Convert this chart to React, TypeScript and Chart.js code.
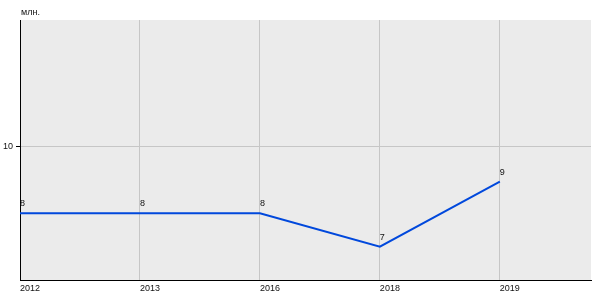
import React, { useEffect, useRef } from "react";
import { Chart, registerables } from "chart.js";

Chart.register(...registerables);

const categories = ["2012", "2013", "2016", "2018", "2019"];
const values = [8, 8, 8, 7, 8.95];
const yTicks = [10];
const unitLabel = "млн.";

const FONT = "'Liberation Sans', Arial, sans-serif";

export default function App() {
  const ref = useRef<HTMLCanvasElement | null>(null);

  useEffect(() => {
    document.body.style.margin = "0";
    const canvas = ref.current;
    if (!canvas) return;

    const bgPlugin = {
      id: "bgArea",
      beforeDraw(chart: any) {
        const { ctx, chartArea } = chart;
        ctx.save();
        ctx.fillStyle = "#ebebeb";
        ctx.fillRect(chartArea.left, chartArea.top, chartArea.right - chartArea.left, chartArea.bottom - chartArea.top);
        ctx.restore();
      },
      afterDraw(chart: any) {
        const { ctx, chartArea } = chart;
        ctx.save();
        ctx.fillStyle = "#111";
        ctx.font = `9px ${FONT}`;
        ctx.textAlign = "left";
        ctx.textBaseline = "alphabetic";
        ctx.fillText(unitLabel, chartArea.left + 1, 15);
        ctx.restore();
      },
      afterDatasetsDraw(chart: any) {
        const { ctx } = chart;
        const meta = chart.getDatasetMeta(0);
        ctx.save();
        ctx.fillStyle = "#111";
        ctx.font = `9px ${FONT}`;
        ctx.textAlign = "left";
        ctx.textBaseline = "alphabetic";
        meta.data.forEach((pt: any, i: number) => {
          ctx.fillText(String(Math.round(values[i])), pt.x, pt.y - 7);
        });
        ctx.restore();
      },
    };

    const chart = new Chart(canvas, {
      type: "line",
      data: {
        datasets: [
          {
            data: values.map((v, i) => ({ x: i, y: v })),
            borderColor: "#0048dc",
            borderWidth: 2,
            pointRadius: 0,
            tension: 0,
            fill: false,
          },
        ],
      },
      options: {
        animation: false,
        responsive: false,
        layout: { padding: { left: 0, right: 9, top: 20, bottom: 0 } },
        plugins: { legend: { display: false }, tooltip: { enabled: false } },
        scales: {
          x: {
            type: "linear",
            min: 0,
            max: 4.76,
            afterFit(scale: any) {
              scale.height = 20;
            },
            ticks: {
              stepSize: 1,
              includeBounds: false,
              autoSkip: false,
              maxRotation: 0,
              align: "start",
              padding: 3,
              color: "#111",
              font: { family: FONT, size: 9 },
              callback: (v: any) => {
                const i = Number(v);
                return Number.isInteger(i) && categories[i] ? categories[i] : "";
              },
            },
            grid: { color: "#c6c6c6", drawTicks: false, lineWidth: 1 },
            border: { display: true, color: "#000", width: 1 },
          },
          y: {
            type: "linear",
            min: 6,
            max: 13.8,
            afterFit(scale: any) {
              scale.width = 20;
            },
            afterBuildTicks(scale: any) {
              scale.ticks = yTicks.map((v) => ({ value: v }));
            },
            ticks: {
              padding: 3,
              color: "#111",
              font: { family: FONT, size: 9 },
              callback: (v: any) => String(v),
            },
            grid: { color: "#c6c6c6", tickColor: "#000", tickLength: 4, lineWidth: 1 },
            border: { display: true, color: "#000", width: 1 },
          },
        },
      },
      plugins: [bgPlugin],
    });

    return () => chart.destroy();
  }, []);

  return (
    <div style={{ width: 600, height: 300, background: "#fff" }}>
      <canvas ref={ref} width={600} height={300} style={{ display: "block" }} />
    </div>
  );
}
